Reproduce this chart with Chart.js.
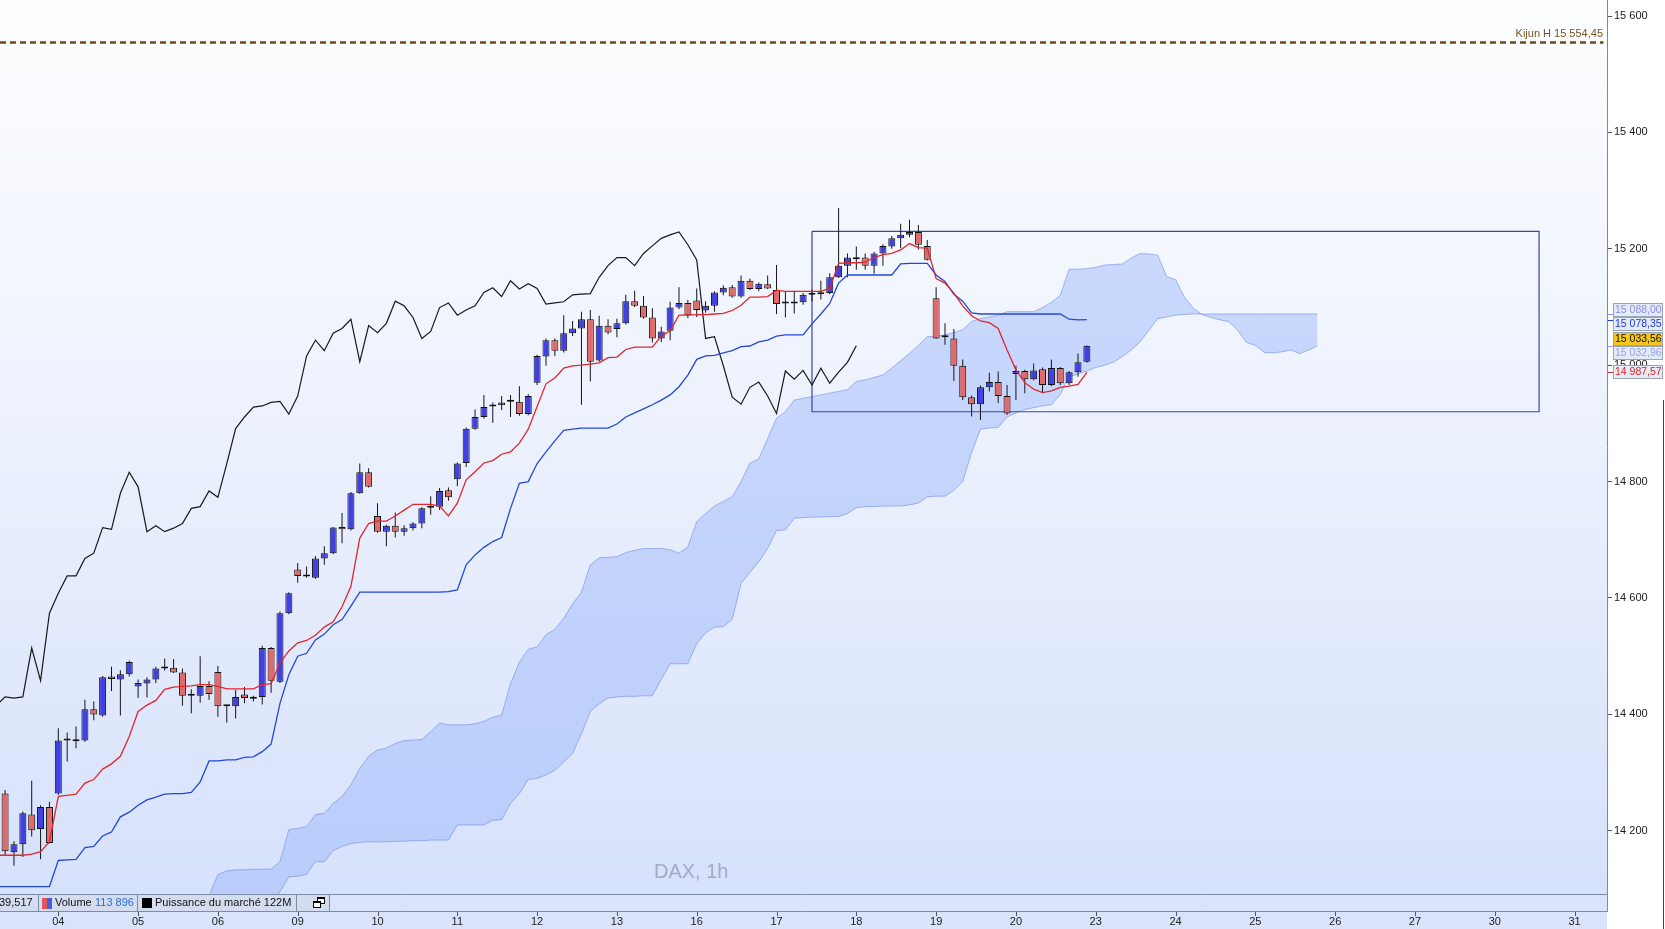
<!DOCTYPE html>
<html>
<head>
<meta charset="utf-8">
<script src="https://cdn.jsdelivr.net/npm/chart.js@4.4.1/dist/chart.umd.min.js"></script>
<style>
html,body{margin:0;padding:0;background:#fff;overflow:hidden}
canvas{display:block}
</style>
</head>
<body>
<canvas id="c" width="1665" height="929"></canvas>
<script>
// ---------- DATA (hourly slots; slot 0 = first visible bar of day 03) ----------
const dayTickSlots = [6,15,24,33,42,51,60,69,78,87,96,105,114,123,132,141,150,159,168,177];
const dayLabels = ['04','05','06','09','10','11','12','13','16','17','18','19','20','23','24','25','26','27','30','31'];
const priceTicks = [14200,14400,14600,14800,15000,15200,15400,15600];

const opens = [14264,14163,14177,14228,14203,14241,14264,14355,14354,14355,
 14409,14398,14465,14460,14469,14448,14453,14460,14479,14480,
 14472,14432,14432,14449,14473,14414,14414,14434,14427,14430,
 14514,14456,14574,14649,14637,14635,14668,14677,14722,14718,
 14780,14816,14741,14714,14724,14714,14720,14728,14755,14757,
 14785,14804,14832,14891,14911,14929,14931,14937,14937,14916,
 14970,15015,15043,15025,15055,15063,15079,15008,15068,15062,
 15072,15110,15102,15082,15046,15059,15099,15107,15111,15094,
 15102,15125,15134,15118,15145,15131,15139,15129,15106,15106,
 15108,15121,15122,15124,15151,15171,15182,15185,15171,15192,
 15204,15218,15224,15229,15205,15115,15048,15046,14999,14945,
 14933,14962,14971,14947,14985,14990,14976,14993,14966,14995,
 14969,14988,15006];
const highs = [14270,14182,14233,14286,14244,14250,14376,14369,14379,14425,
 14422,14466,14482,14476,14492,14460,14464,14482,14496,14495,
 14479,14443,14500,14457,14483,14416,14442,14447,14432,14518,
 14516,14577,14610,14660,14654,14672,14689,14722,14746,14782,
 14831,14823,14763,14726,14747,14725,14730,14756,14775,14789,
 14790,14833,14893,14924,14949,14936,14947,14949,14964,14950,
 15018,15046,15046,15086,15076,15092,15095,15085,15079,15080,
 15121,15128,15119,15098,15066,15109,15134,15112,15132,15110,
 15127,15137,15138,15154,15149,15142,15154,15172,15126,15128,
 15124,15130,15145,15158,15270,15192,15204,15192,15195,15208,
 15222,15243,15250,15241,15215,15134,15072,15062,15010,14948,
 14965,14987,14989,14966,14999,14992,15003,14996,15010,14997,
 14990,15020,15034];
const lows = [14158,14140,14155,14190,14151,14178,14262,14319,14342,14353,
 14390,14396,14440,14398,14465,14428,14429,14454,14475,14471,
 14415,14402,14420,14425,14396,14386,14393,14419,14422,14417,
 14437,14454,14572,14626,14635,14633,14657,14675,14694,14716,
 14779,14790,14712,14689,14704,14707,14716,14720,14743,14751,
 14767,14792,14825,14889,14908,14901,14923,14911,14913,14914,
 14966,14999,15016,15022,15050,14932,14972,15006,15053,15048,
 15070,15100,15080,15039,15040,15043,15096,15081,15083,15090,
 15092,15120,15116,15116,15129,15127,15131,15088,15082,15089,
 15104,15110,15113,15122,15150,15151,15164,15164,15157,15171,
 15200,15201,15220,15199,15180,15045,15035,14973,14940,14912,
 14906,14955,14935,14915,14940,14952,14974,14953,14964,14966,
 14966,14980,15004];
const closes = [14165,14177,14230,14201,14241,14179,14355,14356,14355,14409,
 14400,14464,14461,14469,14490,14454,14460,14479,14480,14472,
 14432,14433,14449,14435,14414,14415,14430,14428,14430,14514,
 14458,14574,14608,14638,14638,14668,14677,14721,14718,14780,
 14816,14791,14714,14724,14714,14720,14728,14754,14757,14784,
 14773,14831,14891,14911,14928,14930,14936,14938,14916,14947,
 15016,15043,15025,15055,15063,15079,15006,15068,15056,15072,
 15110,15102,15082,15046,15058,15099,15107,15086,15095,15102,
 15125,15133,15118,15145,15131,15140,15132,15105,15107,15109,
 15121,15122,15123,15151,15171,15185,15185,15171,15192,15205,
 15218,15224,15229,15207,15181,15046,15049,14999,14945,14933,
 14962,14971,14947,14917,14990,14976,14991,14966,14995,14969,
 14988,15005,15033.56];

// Tenkan / Kijun start one slot before the first visible bar
const LINE_START = -1;
const tenkan = [14158,14158,14158,14158,14160,14164,14181,14259,14261,14263,
 14282,14288,14306,14315,14328,14362,14405,14416,14424,14443,
 14447,14448,14449,14451,14451,14448,14444,14444,14444,14444,
 14451,14453,14488,14509,14523,14527,14536,14550,14559,14585,
 14620,14703,14728,14732,14732,14741,14751,14761,14761,14761,
 14758,14741,14763,14803,14817,14832,14836,14847,14851,14866,
 14890,14929,14968,14978,14995,14999,15000,15002,15004,15013,
 15014,15027,15031,15031,15031,15050,15059,15086,15086,15087,
 15087,15088,15089,15094,15103,15117,15117,15118,15129,15127,
 15127,15127,15127,15127,15132,15175,15176,15176,15177,15185,
 15190,15192,15198,15209,15202,15201,15149,15141,15124,15102,
 15085,15076,15073,15063,15026,14992,14970,14959,14953,14956,
 14962,14964,14967,14987.57];
const kijun = [14104,14104,14104,14104,14104,14104,14104,14149,14150,14151,
 14171,14173,14191,14198,14224,14232,14244,14253,14258,14263,
 14264,14264,14266,14284,14320,14320,14322,14322,14326,14327,
 14336,14349,14419,14468,14500,14505,14528,14538,14554,14563,
 14586,14610,14610,14610,14610,14610,14610,14610,14610,14610,
 14610,14611,14614,14657,14674,14687,14697,14704,14754,14797,
 14800,14831,14851,14870,14888,14890,14892,14892,14892,14892,
 14899,14911,14918,14925,14932,14940,14949,14963,14983,15010,
 15016,15017,15021,15025,15032,15033,15040,15043,15050,15052,
 15052,15052,15071,15088,15106,15141,15155,15155,15155,15155,
 15155,15155,15174,15175,15175,15175,15155,15144,15122,15110,
 15090,15088,15088,15088,15088,15088,15088,15088,15088,15088,
 15088,15079,15078,15078.35];

// Ichimoku cloud (projected), from slot 22 to slot 148
const CLOUD_START = 22;
const senkouA = [14070,14088,14125,14131,14133,14133,14134,14134,14134,14147,
 14202,14204,14207,14228,14230,14247,14259,14279,14307,14328,
 14339,14342,14350,14355,14356,14357,14370,14385,14382,14382,
 14382,14384,14388,14395,14399,14453,14490,14512,14516,14537,
 14546,14565,14590,14610,14657,14669,14670,14671,14678,14682,
 14685,14685,14685,14683,14677,14688,14731,14745,14758,14766,
 14774,14800,14832,14839,14874,14909,14920,14940,14943,14946,
 14949,14952,14955,14958,14972,14975,14979,14983,14995,15008,
 15020,15034,15049,15050,15052,15056,15061,15075,15080,15083,
 15086,15092,15092,15092,15092,15099,15108,15120,15165,15165,
 15166,15168,15172,15173,15174,15184,15192,15191,15189,15152,
 15147,15117,15098,15087,15082,15078,15075,15060,15039,15034,
 15022,15021,15023,15026,15020,15026,15033];
const senkouB = [14000,14005,14010,14020,14030,14040,14050,14060,14075,14095,
 14121,14122,14125,14147,14147,14166,14173,14178,14180,14181,
 14181,14181,14182,14182,14183,14183,14184,14184,14184,14210,
 14210,14210,14210,14218,14219,14247,14264,14288,14290,14296,
 14304,14318,14333,14367,14405,14418,14428,14430,14431,14431,
 14432,14432,14460,14487,14487,14487,14522,14540,14550,14551,
 14563,14625,14644,14662,14685,14716,14717,14737,14738,14739,
 14739,14740,14740,14745,14755,14757,14757,14758,14758,14758,
 14760,14763,14774,14775,14775,14785,14800,14850,14890,14892,
 14893,14911,14918,14924,14927,14930,14932,14950,14980,14985,
 14990,14996,15000,15005,15015,15026,15040,15060,15080,15083,
 15086,15087,15088,15088,15088,15088,15088,15088,15088,15088,
 15088,15088,15088,15088,15088,15088,15088];

const CHIKOU_SHIFT = 26;               // chikou = closes plotted 26 slots back
const rectSlots = [91, 173];           // drawn rectangle (time extent)
const rectPrices = [14920, 15230];     // drawn rectangle (price extent)
const kijunH = 15554.45;
const sideLabelValues = [15088.00, 15078.35, 15033.56, 15032.96, 14987.57];
const statusTexts = ['39,517', 'Volume', '113 896', 'Puissance du marché 122M'];
const chartTitle = 'DAX, 1h';

// ---------- AXIS RANGE ----------
const X_MIN = -0.575, X_MAX = 180.66;
const Y_MIN = 14091.4, Y_MAX = 15627.5;

// ---------- STYLES ----------
const FONT = '"Liberation Sans", Arial, sans-serif';
const UP = '#4141e2', DOWN = '#e26a6a';
const sideLabelTextColors = ['#8a8ee0', '#2238d4', '#111111', '#9aa0e6', '#d8262a'];
const sideLabelFills = ['#e4ebf8', '#e4ebf8', '#f5c61d', '#e4ebf8', '#e7ebf5'];

function fmtNum(v, dec) {
  const s = v.toFixed(dec);
  const parts = s.split('.');
  const i = parts[0].replace(/\B(?=(\d{3})+(?!\d))/g, ' ');
  return parts[1] ? i + ',' + parts[1] : i;
}

Chart.defaults.font.family = FONT;
Chart.defaults.font.size = 11;

const candleX = opens.map((_, i) => i);
const upFlags = opens.map((o, i) => closes[i] >= o);

const overlay = {
  id: 'overlay',
  beforeDraw(chart) {
    const {ctx, chartArea: a, width, height} = chart;
    ctx.save();
    ctx.fillStyle = '#ffffff';
    ctx.fillRect(0, 0, width, height);
    const g = ctx.createLinearGradient(0, a.top, 0, a.bottom);
    g.addColorStop(0, '#fdfeff');
    g.addColorStop(0.45, '#edf2fd');
    g.addColorStop(1, '#d6e1fb');
    ctx.fillStyle = g;
    ctx.fillRect(a.left, a.top, a.right - a.left, a.bottom - a.top);
    ctx.fillStyle = '#d9e3fb';
    ctx.fillRect(a.left, a.bottom, a.right - a.left, height - a.bottom);
    ctx.restore();
  },
  afterDraw(chart) {
    const {ctx, chartArea: a, scales, height} = chart;
    const xs = scales.x, ys = scales.y;
    const sb = a.bottom + 17;
    ctx.save();
    // status bar cells
    ctx.fillStyle = '#d3ddef';
    ctx.fillRect(0, a.bottom + 1, 330, 16);
    ctx.strokeStyle = '#7d8ca6';
    ctx.lineWidth = 1;
    ctx.beginPath();
    ctx.moveTo(a.left, a.bottom + 0.5); ctx.lineTo(a.right, a.bottom + 0.5);
    ctx.moveTo(a.left, sb + 0.5); ctx.lineTo(a.right, sb + 0.5);
    ctx.moveTo(a.right + 0.5, a.bottom); ctx.lineTo(a.right + 0.5, sb + 1);
    [38.5, 137.5, 296.5, 329.5].forEach(sx => { ctx.moveTo(sx, a.bottom + 1); ctx.lineTo(sx, sb); });
    ctx.stroke();
    // x tick marks
    ctx.strokeStyle = '#555';
    ctx.beginPath();
    xs.ticks.forEach(t => {
      const px = Math.round(xs.getPixelForValue(t.value)) + 0.5;
      ctx.moveTo(px, sb + 1); ctx.lineTo(px, sb + 5);
    });
    ctx.stroke();
    // status texts
    const ty = a.bottom + 9;
    ctx.font = '11px ' + FONT;
    ctx.textBaseline = 'middle';
    ctx.textAlign = 'left';
    ctx.fillStyle = '#111';
    ctx.fillText(statusTexts[0], -1, ty);
    ctx.fillStyle = '#e05656'; ctx.fillRect(42, a.bottom + 4, 5, 11);
    ctx.fillStyle = '#4060e0'; ctx.fillRect(47, a.bottom + 4, 5, 11);
    ctx.fillStyle = '#111';
    ctx.fillText(statusTexts[1], 55, ty);
    ctx.fillStyle = '#2f6fd6';
    ctx.fillText(statusTexts[2], 95, ty);
    ctx.fillStyle = '#000';
    ctx.fillRect(142, a.bottom + 4, 10, 10);
    ctx.fillStyle = '#111';
    ctx.fillText(statusTexts[3], 155, ty);
    // window icon
    ctx.strokeStyle = '#000'; ctx.fillStyle = '#fff';
    ctx.fillRect(317.5, a.bottom + 3.5, 7, 6); ctx.strokeRect(317.5, a.bottom + 3.5, 7, 6);
    ctx.fillRect(313.5, a.bottom + 7.5, 7, 6); ctx.strokeRect(313.5, a.bottom + 7.5, 7, 6);
    ctx.fillStyle = '#000';
    ctx.fillRect(317, a.bottom + 3, 8, 2);
    ctx.fillRect(313, a.bottom + 7, 8, 2);

    // Kijun H label
    const ky = ys.getPixelForValue(kijunH);
    ctx.fillStyle = '#7a5228';
    ctx.textAlign = 'right';
    ctx.fillText('Kijun H ' + fmtNum(kijunH, 2), a.right - 4, ky - 9);

    // title watermark
    ctx.font = '20px ' + FONT;
    ctx.fillStyle = '#a2aac4';
    ctx.textAlign = 'left';
    ctx.fillText(chartTitle, 654, 872);

    // right side value labels, stacked to avoid overlap
    const h = 14;
    const items = sideLabelValues.map((v, i) => ({v, i, y: ys.getPixelForValue(v)})).sort((p, q) => p.y - q.y);
    let groups = items.map(it => ({items: [it], c: it.y}));
    let merged = true;
    while (merged) {
      merged = false;
      for (let k = 0; k < groups.length - 1; k++) {
        const g1 = groups[k], g2 = groups[k + 1];
        if (g1.c + g1.items.length * h / 2 > g2.c - g2.items.length * h / 2) {
          const all = g1.items.concat(g2.items);
          const c = all.reduce((s, it) => s + it.y, 0) / all.length;
          groups.splice(k, 2, {items: all, c});
          merged = true;
          break;
        }
      }
    }
    ctx.font = '10.5px ' + FONT;
    ctx.textAlign = 'left';
    ctx.textBaseline = 'middle';
    groups.forEach(g => {
      const top0 = g.c - g.items.length * h / 2;
      g.items.forEach((it, j) => {
        const by = Math.round(top0 + j * h);
        ctx.strokeStyle = sideLabelTextColors[it.i];
        ctx.beginPath();
        ctx.moveTo(a.right + 1, Math.round(it.y) + 0.5);
        ctx.lineTo(a.right + 6, Math.round(it.y) + 0.5);
        ctx.stroke();
        ctx.fillStyle = sideLabelFills[it.i];
        ctx.fillRect(a.right + 6, by, 50, h);
        ctx.strokeStyle = '#9aa4b8';
        ctx.strokeRect(a.right + 6.5, by + 0.5, 49, h - 1);
        ctx.fillStyle = sideLabelTextColors[it.i];
        ctx.fillText(fmtNum(it.v, 2), a.right + 8, by + h / 2 + 0.5);
      });
    });

    // right window border
    ctx.fillStyle = '#444';
    ctx.fillRect(chart.width - 2, 400, 1, height - 400);
    ctx.restore();
  }
};

const lineBase = {type: 'line', pointRadius: 0, pointHoverRadius: 0, tension: 0, fill: false};

const cfg = {
  type: 'bar',
  data: {
    datasets: [
      Object.assign({}, lineBase, {
        label: 'Senkou A',
        data: senkouA.map((v, i) => ({x: CLOUD_START + i, y: v})),
        borderColor: 'rgba(110,130,230,0.55)', borderWidth: 1,
        fill: '+1', backgroundColor: 'rgba(150,180,250,0.45)', order: 20
      }),
      Object.assign({}, lineBase, {
        label: 'Senkou B',
        data: senkouB.map((v, i) => ({x: CLOUD_START + i, y: v})),
        borderColor: 'rgba(110,130,230,0.55)', borderWidth: 1, order: 19
      }),
      Object.assign({}, lineBase, {
        label: 'Zone',
        data: [
          {x: rectSlots[0], y: rectPrices[1]}, {x: rectSlots[1], y: rectPrices[1]},
          {x: rectSlots[1], y: rectPrices[0]}, {x: rectSlots[0], y: rectPrices[0]},
          {x: rectSlots[0], y: rectPrices[1]}
        ],
        borderColor: '#3a45a6', borderWidth: 1.2, order: 18
      }),
      Object.assign({}, lineBase, {
        label: 'Kijun H',
        data: [{x: X_MIN, y: kijunH}, {x: X_MAX - 0.4, y: kijunH}],
        borderColor: '#6b4a1e', borderWidth: 2.5, borderDash: [6, 4], order: 17
      }),
      Object.assign({}, lineBase, {
        label: 'Chikou',
        data: closes.map((c, i) => ({x: i - CHIKOU_SHIFT, y: c})),
        borderColor: '#1a1a1a', borderWidth: 1.2, order: 16
      }),
      {
        type: 'bar', label: 'wicks',
        data: candleX.map(i => ({x: i, y: [lows[i], highs[i]]})),
        backgroundColor: '#151515', borderWidth: 0, barThickness: 1,
        grouped: false, inflateAmount: 0, order: 15
      },
      {
        type: 'bar', label: 'bodies',
        data: candleX.map(i => ({x: i, y: [opens[i], closes[i]]})),
        backgroundColor: upFlags.map(u => u ? UP : DOWN),
        borderColor: '#111', borderWidth: 1, borderSkipped: false,
        barThickness: 7, minBarLength: 2, grouped: false, inflateAmount: 0, order: 14
      },
      Object.assign({}, lineBase, {
        label: 'Kijun',
        data: kijun.map((v, i) => ({x: LINE_START + i, y: v})),
        borderColor: '#2448d6', borderWidth: 1.3, order: 13
      }),
      Object.assign({}, lineBase, {
        label: 'Tenkan',
        data: tenkan.map((v, i) => ({x: LINE_START + i, y: v})),
        borderColor: '#e2262c', borderWidth: 1.3, order: 12
      })
    ]
  },
  options: {
    responsive: false,
    animation: false,
    events: [],
    layout: {padding: 0, autoPadding: false},
    plugins: {legend: {display: false}, tooltip: {enabled: false}},
    scales: {
      x: {
        type: 'linear', position: 'bottom', min: X_MIN, max: X_MAX, offset: false,
        afterFit: s => { s.height = 35; s.paddingLeft = 0; s.paddingRight = 0; s.paddingTop = 0; s.paddingBottom = 0; },
        afterBuildTicks: s => { s.ticks = dayTickSlots.map(v => ({value: v})); },
        grid: {display: false, drawTicks: false, offset: false},
        border: {display: false},
        ticks: {
          autoSkip: false, maxRotation: 0, minRotation: 0, padding: 21, color: '#222',
          font: {size: 11},
          callback: v => { const k = dayTickSlots.indexOf(v); return k >= 0 ? dayLabels[k] : ''; }
        }
      },
      y: {
        type: 'linear', position: 'right', min: Y_MIN, max: Y_MAX,
        afterFit: s => { s.width = 58; s.paddingTop = 0; s.paddingBottom = 0; s.paddingLeft = 0; s.paddingRight = 0; },
        afterBuildTicks: s => { s.ticks = priceTicks.map(v => ({value: v})); },
        grid: {display: true, drawOnChartArea: false, drawTicks: true, tickLength: 5, color: '#555'},
        border: {display: true, color: '#7b8aa3', width: 1},
        ticks: {padding: 2, color: '#222', font: {size: 11}, callback: v => fmtNum(v, 0)}
      }
    }
  },
  plugins: [overlay]
};

new Chart(document.getElementById('c'), cfg);
</script>
</body>
</html>
